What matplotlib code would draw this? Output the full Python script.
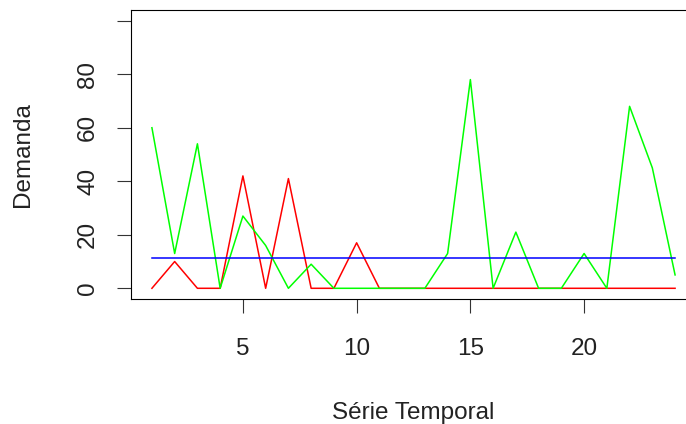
import matplotlib
matplotlib.use("Agg")
import matplotlib.pyplot as plt

plt.rcParams['font.family'] = ['Liberation Sans', 'DejaVu Sans']

tempo = list(range(1, 25))
demanda_verde = [60, 13, 54, 0, 27, 16, 0, 9, 0, 0, 0, 0,
                 0, 13, 78, 0, 21, 0, 0, 13, 0, 68, 45, 5]
demanda_vermelha = [0, 10, 0, 0, 42, 0, 41, 0, 0, 17, 0, 0,
                    0, 0, 0, 0, 0, 0, 0, 0, 0, 0, 0, 0]
media = [11.4] * 24

y_ticks = [0, 20, 40, 60, 80, 100]
y_labels = ['0', '20', '40', '60', '80', '']
x_ticks = [5, 10, 15, 20]

fig = plt.figure(figsize=(6.86, 4.24), dpi=100)
ax = fig.add_axes([131 / 686, 125 / 424, 565 / 686, 289 / 424])

ax.plot(tempo, demanda_vermelha, color='#FF0000', lw=1.1)
ax.plot(tempo, demanda_verde, color='#00FF00', lw=1.1)
ax.plot(tempo, media, color='#0000FF', lw=1.1)

ax.set_xlim(0.08, 24.92)
ax.set_ylim(-4, 104)
ax.set_xticks(x_ticks)
ax.set_yticks(y_ticks)
ax.set_yticklabels(y_labels, rotation=90, va='center')

for s in ax.spines.values():
    s.set_color('black')
    s.set_linewidth(0.8)
ax.tick_params(axis='both', length=10, width=0.8, color='#333333',
               labelsize=17.5, labelcolor='#222222')
ax.tick_params(axis='x', pad=18)
ax.tick_params(axis='y', pad=13)

ax.set_xlabel('Série Temporal', fontsize=17.5, color='#222222', labelpad=30)
ax.set_ylabel('Demanda', fontsize=17.5, color='#222222', labelpad=31)

fig.savefig('out.png', dpi=100)
